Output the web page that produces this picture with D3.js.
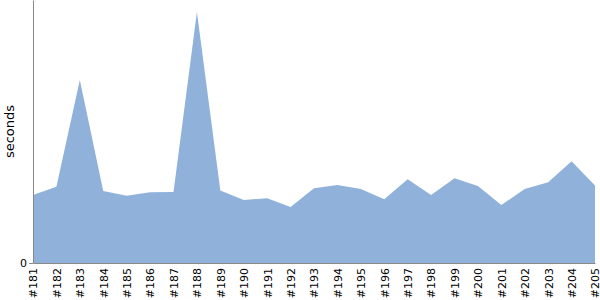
<!DOCTYPE html>
<html>
<head>
<meta charset="utf-8">
<script src="https://cdn.jsdelivr.net/npm/d3@7"></script>
<style>
  body { margin: 0; background: #fff; }
  text { font-family: "DejaVu Sans", sans-serif; }
</style>
</head>
<body>
<div id="viz"></div>
<script>
// build ids along the x axis
const builds = ["#181", "#182", "#183", "#184", "#185", "#186", "#187", "#188", "#189", "#190",
  "#191", "#192", "#193", "#194", "#195", "#196", "#197", "#198", "#199", "#200",
  "#201", "#202", "#203", "#204", "#205"];

// duration per build
const seconds = [259, 290, 696, 274, 256, 269, 270, 954, 276, 240,
  246, 213, 284, 297, 281, 242, 318, 259, 322, 293,
  221, 281, 307, 387, 295];

const yTicks = [0];

const w = 600, h = 300;
const margin = {top: 0, right: 5, bottom: 37, left: 33};

const svg = d3.select("#viz").append("svg")
  .attr("width", w)
  .attr("height", h);

const x = d3.scalePoint()
  .domain(builds)
  .range([margin.left, w - margin.right]);

const y = d3.scaleLinear()
  .domain([0, 1000])
  .range([h - margin.bottom, margin.top]);

const data = builds.map((b, i) => ({build: b, value: seconds[i]}));

const area = d3.area()
  .x(d => x(d.build))
  .y0(y(0))
  .y1(d => y(d.value));

svg.append("path")
  .datum(data)
  .attr("fill", "#8fb1da")
  .attr("d", area);

// y axis
const yAxis = svg.append("g")
  .attr("transform", `translate(${margin.left},0)`)
  .call(d3.axisLeft(y).tickValues(yTicks).tickSize(4).tickSizeOuter(0));
yAxis.select(".domain").attr("stroke", "#888");
yAxis.selectAll(".tick line").attr("stroke", "#888");
yAxis.selectAll(".tick text").attr("font-size", 11).attr("fill", "#000").attr("x", -6);

// x axis
const xAxis = svg.append("g")
  .attr("transform", `translate(0,${h - margin.bottom})`)
  .call(d3.axisBottom(x).tickSize(0).tickSizeOuter(0));
xAxis.select(".domain").attr("stroke", "#888");
xAxis.selectAll(".tick text")
  .attr("font-size", 11)
  .attr("fill", "#000")
  .attr("text-anchor", "end")
  .attr("transform", "rotate(-90)")
  .attr("x", -5)
  .attr("y", 0)
  .attr("dy", "0.35em");

svg.append("text")
  .attr("transform", `translate(14,${(h - margin.bottom) / 2}) rotate(-90)`)
  .attr("text-anchor", "middle")
  .attr("font-size", 13)
  .text("seconds");
</script>
</body>
</html>
